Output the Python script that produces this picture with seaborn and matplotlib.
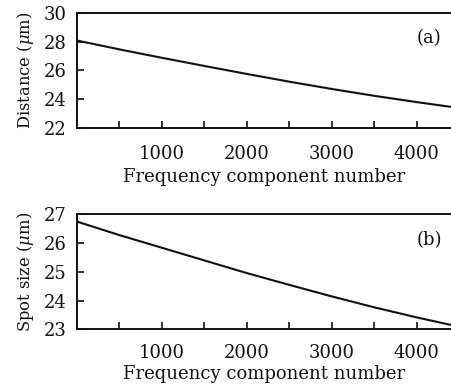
import matplotlib
matplotlib.use("Agg")
import matplotlib.pyplot as plt
import numpy as np
import pandas as pd
import seaborn as sns

# values
freq_component = [0, 500, 1000, 1500, 2000, 2500, 3000, 3500, 4000, 4400]
distance_um = [28.10, 27.48, 26.89, 26.32, 25.76, 25.22, 24.71, 24.23, 23.79, 23.46]
spot_size_um = [26.75, 26.28, 25.84, 25.40, 24.96, 24.55, 24.15, 23.77, 23.42, 23.16]

x_major = [1000, 2000, 3000, 4000]
x_minor = [500, 1500, 2500, 3500]

sns.set_theme(style="ticks")
plt.rcParams["font.family"] = ["DejaVu Serif"]
plt.rcParams["mathtext.fontset"] = "dejavuserif"

df = pd.DataFrame({
    "freq": freq_component,
    "distance": distance_um,
    "spot": spot_size_um,
})

fig = plt.figure(figsize=(4.51, 3.85), dpi=100)
ax_a = fig.add_axes([0.170, 0.6683, 0.830, 0.2972])
ax_b = fig.add_axes([0.170, 0.1442, 0.830, 0.2992])

# axes, column, y label, y limits, y ticks, panel tag, tag height, x tick pad, x label pad
panels = [
    (ax_a, "distance", r"Distance ($\mu$m)", (22, 30), [22, 24, 26, 28, 30], "(a)", 0.784, 12.5, 3.5),
    (ax_b, "spot", r"Spot size ($\mu$m)", (23, 27), [23, 24, 25, 26, 27], "(b)", 0.777, 10.5, 2.0),
]

for ax, col, ylabel, ylim, yticks, tag, tag_y, xpad, xlabelpad in panels:
    sns.lineplot(data=df, x="freq", y=col, ax=ax, color="#111111", linewidth=1.5)
    ax.set_xticks(x_major)
    ax.set_xticks(x_minor, minor=True)
    ax.set_yticks(yticks)
    ax.set_xlim(0, 4404)
    ax.set_ylim(*ylim)
    ax.tick_params(axis="both", which="both", direction="in", length=5, width=1.2,
                   color="#111111", labelsize=13, labelcolor="#111111")
    ax.tick_params(axis="x", which="major", pad=xpad)
    ax.tick_params(axis="y", which="major", pad=7.5)
    ax.tick_params(top=False, right=False)
    for side in ["left", "bottom", "top"]:
        ax.spines[side].set_visible(True)
        ax.spines[side].set_linewidth(1.4)
        ax.spines[side].set_color("#111111")
    ax.spines["right"].set_visible(False)
    ax.set_xlabel("Frequency component number", fontsize=13, color="#111111", labelpad=xlabelpad)
    ax.set_ylabel(ylabel, fontsize=11.8, color="#111111", labelpad=5)
    ax.text(0.975, tag_y, tag, transform=ax.transAxes, ha="right", va="center",
            fontsize=13, color="#111111")

fig.savefig("out.png", dpi=100)
